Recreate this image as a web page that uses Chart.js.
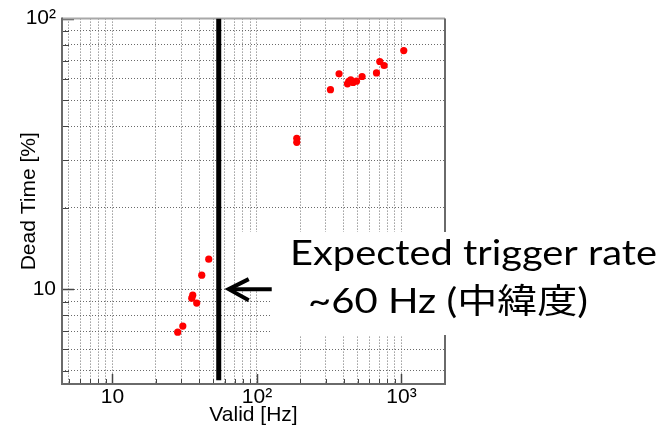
<!DOCTYPE html>
<html><head><meta charset="utf-8">
<script src="https://cdn.jsdelivr.net/npm/chart.js@4.4.1/dist/chart.umd.min.js"></script>
<style>html,body{margin:0;padding:0;background:#fff;}#wrap{position:relative;width:660px;height:428px;}</style>
</head><body><div id="wrap"><canvas id="c" width="660" height="428"></canvas></div>
<script>
// ---- data ----
const validHz     = [28.3, 30.7, 35.4, 35.95, 38.3, 41.5, 46.4, 188.6, 188.6, 322.6, 369.9, 422.9, 431.8, 445.7, 462.4, 488.3, 533.8, 671.4, 707.6, 758, 1037];
const deadTimePct = [6.93, 7.30, 9.26, 9.50, 8.88, 11.26, 12.9, 36.1, 34.9, 54.6, 62.5, 57.4, 58.6, 59.4, 58.1, 58.7, 61.1, 63.0, 69.4, 67.1, 76.2];
const expectedRateHz = 54.4;
const expectedLineY = [4.6, 100];
const xRange = [4.48, 2000];
const yRange = [4.46, 100];
const xTickValues = [5, 6, 7, 8, 9, 10, 20, 30, 40, 50, 60, 70, 80, 90, 100, 200, 300, 400, 500, 600, 700, 800, 900, 1000];
const yTickValues = [5, 6, 7, 8, 9, 10, 20, 30, 40, 50, 60, 70, 80, 90, 100];
const xTickLabels = {10: '10', 100: '10²', 1000: '10³'};
const yTickLabels = {10: '10', 100: '10²'};
const xMajor = [10, 100, 1000];
const yMajor = [10, 100];
const xTitle = 'Valid [Hz]';
const yTitle = 'Dead Time [%]';
const noteLines = ['Expected trigger rate', '~60 Hz (中緯度)'];

Chart.defaults.font.family = "'Liberation Sans', Arial, sans-serif";
Chart.defaults.color = '#000';

const framePlugin = {
  id: 'frame',
  beforeDatasetsDraw(chart) {
    const {ctx, chartArea: a, scales: {x, y}} = chart;
    ctx.save();
    // inward ticks
    ctx.strokeStyle = '#444';
    xTickValues.forEach(v => {
      const px = Math.round(x.getPixelForValue(v)) + 0.5;
      const L = xMajor.includes(v) ? 10 : 5;
      ctx.lineWidth = xMajor.includes(v) ? 1.5 : 1;
      ctx.beginPath(); ctx.moveTo(px, a.bottom); ctx.lineTo(px, a.bottom - L); ctx.stroke();
    });
    yTickValues.forEach(v => {
      const py = Math.round(y.getPixelForValue(v)) + 0.5;
      const L = yMajor.includes(v) ? 12 : 7;
      ctx.lineWidth = yMajor.includes(v) ? 1.5 : 1;
      ctx.beginPath(); ctx.moveTo(a.left, py); ctx.lineTo(a.left + L, py); ctx.stroke();
    });
    // frame
    ctx.lineWidth = 2;
    ctx.strokeStyle = '#a8a8a8';
    ctx.beginPath(); ctx.moveTo(a.left, a.top); ctx.lineTo(a.right, a.top); ctx.stroke();
    ctx.strokeStyle = '#6a6a6a';
    ctx.beginPath(); ctx.moveTo(a.right, a.top); ctx.lineTo(a.right, a.bottom); ctx.stroke();
    ctx.beginPath(); ctx.moveTo(a.left, a.top - 1); ctx.lineTo(a.left, a.bottom); ctx.lineTo(a.right + 1, a.bottom); ctx.stroke();
    ctx.restore();
  }
};

const notePlugin = {
  id: 'note',
  afterDraw(chart) {
    const {ctx, scales: {x, y}} = chart;
    ctx.save();
    ctx.fillStyle = '#fff';
    ctx.fillRect(236, 232, 424, 55);
    ctx.fillRect(272, 287, 388, 48);
    // arrow
    const tipX = x.getPixelForValue(expectedRateHz) + 9;
    const ay = y.getPixelForValue(10);
    ctx.strokeStyle = '#000';
    ctx.lineWidth = 4;
    ctx.lineJoin = 'miter';
    ctx.beginPath(); ctx.moveTo(tipX + 2, ay); ctx.lineTo(tipX + 44, ay); ctx.stroke();
    ctx.beginPath(); ctx.moveTo(tipX + 21, ay - 10); ctx.lineTo(tipX + 1, ay); ctx.lineTo(tipX + 21, ay + 11); ctx.stroke();
    // text
    ctx.fillStyle = '#000';
    ctx.font = '34px Lato, "Noto Sans CJK JP", sans-serif';
    ctx.textBaseline = 'alphabetic';
    const spec = [[290, 265, 367], [308, 313, 280]];
    noteLines.forEach((t, i) => {
      const [tx, ty, tw] = spec[i];
      const w = ctx.measureText(t).width;
      ctx.save();
      ctx.translate(tx, ty);
      ctx.scale(tw / w, 1);
      ctx.fillText(t, 0, 0);
      ctx.restore();
    });
    ctx.restore();
  }
};

const gridOpts = {
  display: true,
  drawTicks: false,
  color: '#6a6a6a',
  lineWidth: 1
};

new Chart(document.getElementById('c'), {
  type: 'scatter',
  data: {
    datasets: [
      {
        data: validHz.map((v, i) => ({x: v, y: deadTimePct[i]})),
        backgroundColor: '#ff0000',
        borderWidth: 0,
        pointRadius: 3.6,
        pointHoverRadius: 3.6
      },
      {
        data: expectedLineY.map(v => ({x: expectedRateHz, y: v})),
        showLine: true,
        borderColor: '#000',
        borderWidth: 5,
        pointRadius: 0,
        borderCapStyle: 'butt'
      }
    ]
  },
  options: {
    responsive: false,
    animation: false,
    events: [],
    layout: {padding: {left: 0, top: 18, right: 215, bottom: 0}},
    plugins: {legend: {display: false}, tooltip: {enabled: false}},
    scales: {
      x: {
        type: 'logarithmic',
        min: xRange[0], max: xRange[1],
        afterBuildTicks: s => { s.ticks = xTickValues.map(v => ({value: v, major: false})); },
        afterFit: s => { s.height = 44; },
        ticks: {autoSkip: false, maxRotation: 0, padding: 1, font: {size: 21}, callback: v => xTickLabels[v] || ''},
        grid: gridOpts,
        border: {display: false, dash: [1, 2]},
        title: {display: true, text: xTitle, font: {size: 21}, padding: {top: 0, bottom: 0}}
      },
      y: {
        type: 'logarithmic',
        min: yRange[0], max: yRange[1],
        afterBuildTicks: s => { s.ticks = yTickValues.map(v => ({value: v, major: false})); },
        afterFit: s => { s.width = 62; },
        ticks: {autoSkip: false, padding: 6, font: {size: 21}, callback: v => yTickLabels[v] || ''},
        grid: gridOpts,
        border: {display: false, dash: [1, 2]},
        title: {display: true, text: yTitle, font: {size: 21}, padding: {top: 17, bottom: 0}}
      }
    }
  },
  plugins: [framePlugin, notePlugin]
});
</script></body></html>
